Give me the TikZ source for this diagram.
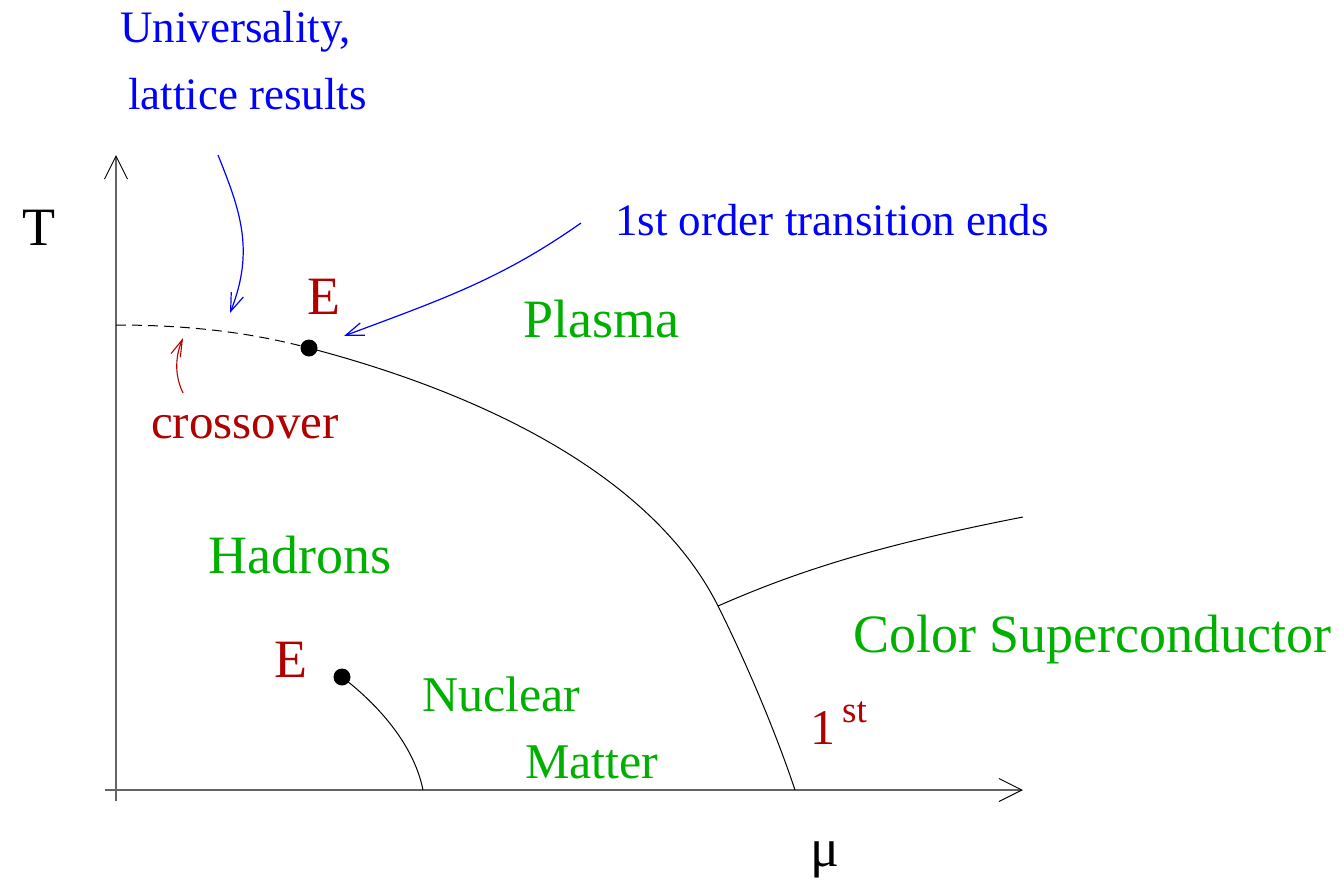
\documentclass[tikz,border=0pt]{standalone}
\usepackage{fontspec}
\setmainfont{Liberation Serif}
\usetikzlibrary{arrows.meta}
\definecolor{lblue}{RGB}{0,0,255}
\definecolor{lred}{RGB}{176,0,0}
\definecolor{lgreen}{RGB}{0,176,0}
\definecolor{axisgray}{RGB}{100,100,100}
\tikzset{
  lbl/.style={inner sep=0pt, anchor=base west},
  big/.style={font=\fontsize{54}{60}\selectfont},
  mid/.style={font=\fontsize{49}{55}\selectfont},
  small/.style={font=\fontsize{45}{50}\selectfont},
  phase/.style={lbl, big, text=lgreen},
  phasemid/.style={lbl, font=\fontsize{50}{55}\selectfont, text=lgreen},
  redlbl/.style={lbl, text=lred},
  bluelbl/.style={lbl, small, text=lblue},
  axis/.style={draw=axisgray, line width=1.4pt, -{Straight Barb[length=23pt,width=23pt,line width=1pt,color=black]}},
  boundary/.style={draw=black, line width=1pt},
  crossline/.style={draw=black, line width=1pt, dash pattern=on 10pt off 6pt},
  bluearrow/.style={draw=lblue, line width=1.2pt, -{Straight Barb[length=18pt,width=13pt,line width=1.2pt]}},
  redarrow/.style={draw=lred, line width=1.1pt, -{Straight Barb[length=17pt,width=10pt,line width=1.1pt]}},
  critdot/.style={circle, fill=black, inner sep=0pt, minimum size=17pt},
}
\begin{document}
\begin{tikzpicture}[x=1pt,y=-1pt]
\useasboundingbox (0,0) rectangle (1342,881);
% axes
\coordinate (origin) at (116,790);
\coordinate (ytop) at (116,155);
\coordinate (ybot) at (116,801);
\coordinate (xleft) at (105,790);
\coordinate (xright) at (1023,790);
\draw[axis] (ybot) -- (ytop);
\draw[axis] (xleft) -- (xright);
% critical points
\node[critdot] (E1) at (309,348) {};
\node[critdot] (E2) at (342,677) {};
% points on curves
\coordinate (ycross) at (116,325);
\coordinate (branch) at (718,606);
\coordinate (mufoot) at (795,790);
\coordinate (nmfoot) at (423,790);
\coordinate (csend) at (1023,517);
% crossover (dashed)
\draw[crossline] (ycross) .. controls (200,325) and (260,335) .. (E1.center);
% main boundary
\draw[boundary] (E1.center) .. controls (470,390) and (650,470) .. (branch)
  .. controls (745,660) and (775,730) .. (mufoot);
% branch to colour superconductor
\draw[boundary] (branch) .. controls (800,570) and (880,545) .. (csend);
% nuclear matter line
\draw[boundary] (E2.center) .. controls (385,710) and (415,750) .. (nmfoot);
% labels
\node[lbl, big] (T) at (22,245) {T};
\node[lbl, big, anchor=base] (mu) at (825,866) {μ};
\node[bluelbl] (univ) at (120,42) {Universality,};
\node[bluelbl] (latt) at (128,109) {lattice results};
\node[bluelbl] (first) at (615,235) {1st order transition ends};
\node[redlbl, big] (Elab1) at (307,314) {E};
\node[redlbl, big] (Elab2) at (274,677) {E};
\node[redlbl, mid] (cross) at (151,438) {crossover};
\node[redlbl, font=\fontsize{50}{55}\selectfont] (one) at (810,744) {1};
\node[redlbl, font=\fontsize{37}{40}\selectfont] (st) at (842,722) {st};
\node[phase] (plasma) at (523,337) {Plasma};
\node[phase] (hadrons) at (208,573) {Hadrons};
\node[phasemid] (nuclear) at (422,711) {Nuclear};
\node[phasemid] (matter) at (525,778) {Matter};
\node[phase] (csc) at (853,652) {Color Superconductor};
% pointer arrows
\coordinate (a1s) at (218,155);
\coordinate (a1e) at (230,313);
\coordinate (a2s) at (581,223);
\coordinate (a2e) at (344,336);
\coordinate (a3s) at (183,393);
\coordinate (a3e) at (183,338);
\draw[bluearrow] (a1s) .. controls (240,210) and (255,250) .. (a1e);
\draw[bluearrow] (a2s) .. controls (500,280) and (440,300) .. (a2e);
\draw[redarrow] (a3s) .. controls (172,370) and (178,350) .. (a3e);
\end{tikzpicture}
\end{document}
